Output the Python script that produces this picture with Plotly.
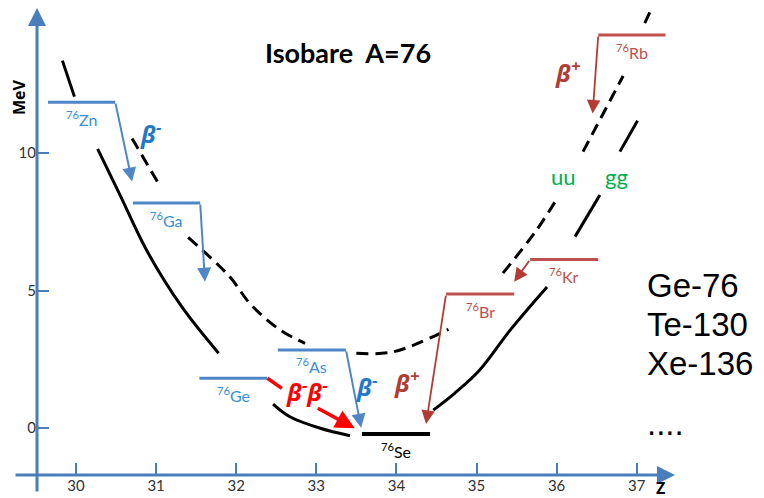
import plotly.graph_objects as go

# ---------------- data ----------------
# x: proton number Z, y: energy in MeV
x_ticks = [30, 31, 32, 33, 34, 35, 36, 37]
y_ticks = [0, 5, 10]

# beta-minus side levels (blue)
bm_names = ["Zn", "Ga", "Ge", "As"]
bm_z_left = [29.65, 30.71, 31.54, 32.52]
bm_z_right = [30.49, 31.55, 32.39, 33.37]
bm_energy = [11.85, 8.18, 1.81, 2.84]

# stable end point (black)
st_names = ["Se"]
st_z_left = [33.57]
st_z_right = [34.42]
st_energy = [-0.22]

# beta-plus side levels (red)
bp_names = ["Br", "Kr", "Rb"]
bp_z_left = [34.62, 35.67, 36.52]
bp_z_right = [35.47, 36.52, 37.36]
bp_energy = [4.87, 6.13, 14.29]

# decay arrows: start (level end) -> tip
bm_arrow_z0 = [30.49, 31.55, 33.37]
bm_arrow_e0 = [11.85, 8.18, 2.84]
bm_arrow_z1 = [30.70, 31.61, 33.56]
bm_arrow_e1 = [8.96, 5.32, 0.01]

bp_arrow_z0 = [34.62, 35.67, 36.52]
bp_arrow_e0 = [4.87, 6.13, 14.29]
bp_arrow_z1 = [34.37, 35.47, 36.45]
bp_arrow_e1 = [0.15, 5.32, 11.44]

# double beta decay Ge -> Se (line piece, then arrow)
bb_line_z = [32.39, 32.57]
bb_line_e = [1.81, 1.44]
bb_arrow_z = [33.00, 33.48]
bb_arrow_e = [0.75, -0.01]

# even-even (gg) mass parabola, solid, pieces separated by None
gg_z = [29.83, 29.98, None,
        30.27, 30.55, 30.88, 31.32, 31.78, None,
        32.46, 32.67, 33.05, 33.42, None,
        34.46, 34.73, 35.04, 35.42, 35.88, None,
        36.23, 36.54, None,
        36.79, 37.01]
gg_e = [13.36, 12.05, None,
        10.15, 8.47, 6.47, 4.41, 2.72, None,
        0.87, 0.41, -0.01, -0.28, None,
        0.65, 1.27, 2.11, 3.56, 5.13, None,
        6.96, 8.47, None,
        10.05, 11.17]

# odd-odd (uu) mass parabola, dashed
uu_z = [30.70, 31.04, None,
        31.40, 31.92, 32.17, 32.55, 32.86, None,
        33.50, 33.96, 34.65, None,
        35.33, 35.75, 36.02, None,
        36.33, 36.83, None,
        37.10, 37.20]
uu_e = [10.53, 8.84, None,
        6.93, 5.50, 4.53, 3.56, 3.08, None,
        2.72, 2.77, 3.59, None,
        5.63, 7.20, 8.41, None,
        10.05, 12.80, None,
        14.72, 15.35]

mass_number = 76
examples = ["Ge-76", "Te-130", "Xe-136", "...."]

# ---------------- styles ----------------
AXIS_BLUE = "#4a7ebb"
LEVEL_BLUE = "#4f86c6"
LABEL_BLUE = "#3a8fd8"
BETA_BLUE = "#1f78c8"
LEVEL_RED = "#c0504d"
BETA_RED = "#b23c34"
GREEN = "#00b050"
FONT = "Lato, 'Open Sans', sans-serif"
GREEK = "'Open Sans', 'DejaVu Sans', sans-serif"


def level_xy(zl, zr, e):
    xs, ys = [], []
    for a, b, v in zip(zl, zr, e):
        xs += [a, b, None]
        ys += [v, v, None]
    return xs, ys


fig = go.Figure()

fig.add_trace(go.Scatter(x=gg_z, y=gg_e, mode="lines", connectgaps=False,
                         line=dict(color="black", width=3, shape="spline"),
                         hoverinfo="skip"))
fig.add_trace(go.Scatter(x=uu_z, y=uu_e, mode="lines", connectgaps=False,
                         line=dict(color="black", width=3, shape="spline", dash="12px,7px"),
                         hoverinfo="skip"))

x, y = level_xy(bm_z_left, bm_z_right, bm_energy)
fig.add_trace(go.Scatter(x=x, y=y, mode="lines", line=dict(color=LEVEL_BLUE, width=3),
                         hoverinfo="skip"))
x, y = level_xy(bp_z_left, bp_z_right, bp_energy)
fig.add_trace(go.Scatter(x=x, y=y, mode="lines", line=dict(color=LEVEL_RED, width=3),
                         hoverinfo="skip"))
x, y = level_xy(st_z_left, st_z_right, st_energy)
fig.add_trace(go.Scatter(x=x, y=y, mode="lines", line=dict(color="black", width=4),
                         hoverinfo="skip"))
fig.add_trace(go.Scatter(x=bb_line_z, y=bb_line_e, mode="lines",
                         line=dict(color="#ff0000", width=3.5), hoverinfo="skip"))

ann = []
# decay arrows
for z0, e0, z1, e1 in zip(bm_arrow_z0, bm_arrow_e0, bm_arrow_z1, bm_arrow_e1):
    ann.append(dict(x=z1, y=e1, ax=z0, ay=e0, xref="x", yref="y", axref="x", ayref="y",
                    text="", showarrow=True, arrowhead=2, arrowsize=1.4, arrowwidth=2,
                    arrowcolor=LEVEL_BLUE))
for z0, e0, z1, e1 in zip(bp_arrow_z0, bp_arrow_e0, bp_arrow_z1, bp_arrow_e1):
    ann.append(dict(x=z1, y=e1, ax=z0, ay=e0, xref="x", yref="y", axref="x", ayref="y",
                    text="", showarrow=True, arrowhead=2, arrowsize=1.5, arrowwidth=1.8,
                    arrowcolor=BETA_RED))
ann.append(dict(x=bb_arrow_z[1], y=bb_arrow_e[1], ax=bb_arrow_z[0], ay=bb_arrow_e[0],
                xref="x", yref="y", axref="x", ayref="y", text="", showarrow=True,
                arrowhead=2, arrowsize=1.1, arrowwidth=3.5, arrowcolor="#ff0000"))

# level labels
for names, zl, zr, e, col in [(bm_names, bm_z_left, bm_z_right, bm_energy, LABEL_BLUE),
                              (st_names, st_z_left, st_z_right, st_energy, "black"),
                              (bp_names, bp_z_left, bp_z_right, bp_energy, LEVEL_RED)]:
    for n, a, b, v in zip(names, zl, zr, e):
        ann.append(dict(x=(a + b) / 2, y=v, xref="x", yref="y", yshift=-16,
                        xanchor="center", yanchor="middle",
                        text=f"<sup>{mass_number}</sup>{n}", showarrow=False,
                        font=dict(family=FONT, size=16, color=col)))

# beta labels
beta_font = dict(family=GREEK, size=24)
extra = [
    dict(x=30.94, y=10.73, text="<b><i>β<sup>-</sup></i></b>", font=dict(**beta_font, color=BETA_BLUE)),
    dict(x=33.63, y=1.56, text="<b><i>β<sup>-</sup></i></b>", font=dict(**beta_font, color=BETA_BLUE)),
    dict(x=36.14, y=12.96, text="<b><i>β<sup>+</sup></i></b>", font=dict(**beta_font, color=BETA_RED)),
    dict(x=34.13, y=1.68, text="<b><i>β<sup>+</sup></i></b>", font=dict(**beta_font, color=BETA_RED)),
    dict(x=32.88, y=1.38, text="<b><i>β<sup>-</sup>β<sup>-</sup></i></b>", font=dict(**beta_font, color="#ff0000")),
    dict(x=36.08, y=9.16, text="uu", font=dict(family=FONT, size=22, color=GREEN)),
    dict(x=36.75, y=9.16, text="gg", font=dict(family=FONT, size=22, color=GREEN)),
    dict(x=33.39, y=13.64, text=f"<b>Isobare  A={mass_number}</b>", font=dict(family=FONT, size=27, color="black")),
]
for a in extra:
    a.update(xref="x", yref="y", showarrow=False, xanchor="center", yanchor="middle")
ann += extra

# example list on the right
ex_y = [0.400, 0.316, 0.234, 0.108]
for t, yy in zip(examples, ex_y):
    ann.append(dict(x=0.836, y=yy, xref="paper", yref="paper", xanchor="left", yanchor="middle",
                    text=t, showarrow=False,
                    font=dict(family="Liberation Sans, Arial", size=33, color="black")))

# axis arrows
ann.append(dict(x=0.8776, y=0, xref="paper", yref="paper", ax=-661, ay=0, text="",
                showarrow=True, arrowhead=2, arrowsize=1.2, arrowwidth=3, arrowcolor=AXIS_BLUE))
ann.append(dict(x=0, y=0.9832, xref="paper", yref="paper", ax=0, ay=485, text="",
                showarrow=True, arrowhead=2, arrowsize=1.2, arrowwidth=3, arrowcolor=AXIS_BLUE))
ann.append(dict(x=0.857, y=-0.027, xref="paper", yref="paper", text="<b>Z</b>", showarrow=False,
                xanchor="center", yanchor="middle",
                font=dict(family="'Open Sans', sans-serif", size=16, color="black")))
ann.append(dict(x=-0.0257, y=0.7964, xref="paper", yref="paper", text="<b>MeV</b>", showarrow=False,
                xanchor="center", yanchor="middle",
                textangle=-90, font=dict(family="'Open Sans', sans-serif", size=16, color="black")))

fig.update_layout(
    width=764, height=498,
    margin=dict(l=37, r=0, t=0, b=23),
    paper_bgcolor="white", plot_bgcolor="white",
    showlegend=False,
    annotations=ann,
    xaxis=dict(range=[29.513, 38.589], tickvals=x_ticks, ticks="inside", ticklen=12,
               tickwidth=2, tickcolor=AXIS_BLUE, showline=False, showgrid=False,
               zeroline=False, tickfont=dict(family=FONT, size=15, color="#333"),
               fixedrange=True),
    yaxis=dict(range=[-1.709, 15.564], tickvals=y_ticks, ticks="inside", ticklen=12,
               tickwidth=2, tickcolor=AXIS_BLUE, showline=False, showgrid=False,
               zeroline=False, tickfont=dict(family=FONT, size=15, color="#333"),
               fixedrange=True),
)

fig.write_html("out.html")
